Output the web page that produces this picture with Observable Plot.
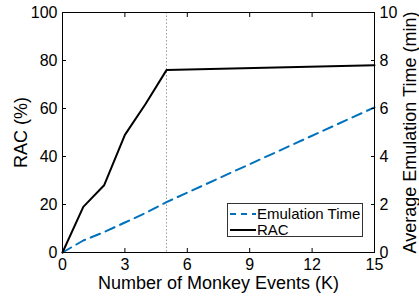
<!DOCTYPE html>
<html><head><meta charset="utf-8">
<script src="https://cdn.jsdelivr.net/npm/d3@7"></script>
<script src="https://cdn.jsdelivr.net/npm/@observablehq/plot@0.6"></script>
<style>
body{margin:0;background:#fff;}
#wrap{position:relative;width:419px;height:300px;font-family:"Liberation Sans",Arial,sans-serif;overflow:hidden;}
.legend{position:absolute;left:227px;top:203px;width:134px;height:32px;border:1px solid #333;background:#fff;font-size:15px;color:#000;}
.row{position:absolute;left:1px;height:16px;line-height:16px;white-space:nowrap;}
.row svg{position:absolute;left:0;top:0;}
.row span{position:absolute;left:28px;top:0;}
</style>
</head><body>
<div id="wrap"></div>
<script>
const events = [0, 1, 2, 3, 4, 5, 15];
const rac = [0, 19, 28, 49, 62, 76, 78];
const emuTime = [0, 0.5, 0.85, 1.25, 1.65, 2.1, 6.05];
const xTicks = [0, 3, 6, 9, 12, 15];
const racTicks = [0, 20, 40, 60, 80, 100];
const timeTicks = [0, 2, 4, 6, 8, 10];
const markerX = 5;
const timeFactor = 10; // right axis 0..10 maps onto left axis 0..100
const seriesNames = ["Emulation Time", "RAC"];
const xTitle = "Number of Monkey Events (K)";
const yTitle = "RAC (%)";
const y2Title = "Average Emulation Time (min)";

const racData = events.map((x, i) => ({x, y: rac[i]}));
const timeData = events.map((x, i) => ({x, y: emuTime[i] * timeFactor}));

const chart = Plot.plot({
  width: 419, height: 300,
  marginLeft: 62, marginRight: 45, marginTop: 12, marginBottom: 48,
  style: {fontFamily: "'Liberation Sans', Arial, sans-serif", fontSize: "16px", background: "#fff", color: "#000", overflow: "hidden"},
  x: {domain: [0, 15]},
  y: {domain: [0, 100]},
  marks: [
    Plot.ruleX([markerX], {stroke: "#999", strokeDasharray: "1.5,2"}),
    Plot.line(timeData, {x: "x", y: "y", stroke: "#0072BD", strokeWidth: 2, strokeDasharray: "10,6"}),
    Plot.line(racData, {x: "x", y: "y", stroke: "#000", strokeWidth: 2}),
    Plot.frame({stroke: "#000", strokeWidth: 1}),
    Plot.axisX(xTicks, {anchor: "bottom", tickSize: -4, tickPadding: 10, label: null, fontSize: 16}),
    Plot.axisX(xTicks, {anchor: "top", tickSize: -4, tickFormat: () => "", label: null}),
    Plot.axisY(racTicks, {anchor: "left", tickSize: -4, tickPadding: 9, label: null, fontSize: 16}),
    Plot.axisY(timeTicks.map(t => t * timeFactor), {anchor: "right", tickSize: -4, tickPadding: 9, tickFormat: d => d / timeFactor, label: null, fontSize: 16}),
    Plot.text([xTitle], {frameAnchor: "bottom", textAnchor: "middle", dy: 36, fontSize: 18}),
    Plot.text([yTitle], {frameAnchor: "left", textAnchor: "middle", dx: -41, rotate: -90, fontSize: 18}),
    Plot.text([y2Title], {frameAnchor: "right", textAnchor: "middle", dx: 36, rotate: -90, fontSize: 18})
  ]
});
const wrap = document.getElementById("wrap");
wrap.appendChild(chart);

const legend = document.createElement("div");
legend.className = "legend";
legend.innerHTML = `
<div class="row" style="top:2px"><svg width="27" height="16"><line x1="1" x2="27" y1="8" y2="8" stroke="#0072BD" stroke-width="2" stroke-dasharray="6,5"/></svg><span>${seriesNames[0]}</span></div>
<div class="row" style="top:18px"><svg width="27" height="16"><line x1="1" x2="27" y1="8" y2="8" stroke="#000" stroke-width="2"/></svg><span>${seriesNames[1]}</span></div>`;
wrap.appendChild(legend);
</script>
</body></html>
